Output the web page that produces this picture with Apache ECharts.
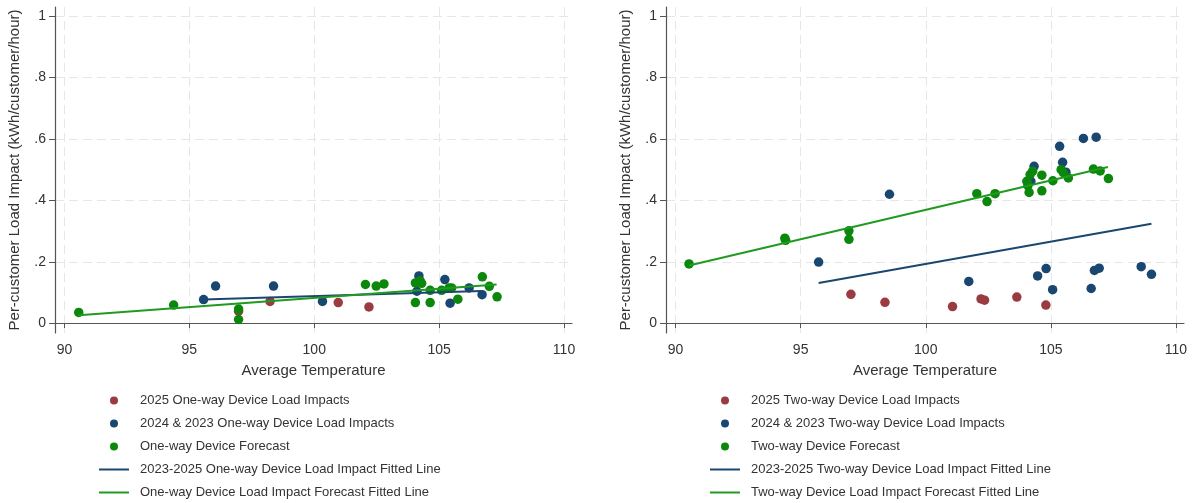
<!DOCTYPE html>
<html>
<head>
<meta charset="utf-8">
<script src="https://cdn.jsdelivr.net/npm/echarts@6/dist/echarts.min.js"></script>
<style>
html, body { margin: 0; padding: 0; background: #fff; }
#chart { width: 1195px; height: 503px; }
</style>
</head>
<body>
<div id="chart"></div>
<script>
// axis ticks
var xTicks = [90, 95, 100, 105, 110];
var yTicks = [0, 0.2, 0.4, 0.6, 0.8, 1];

// one-way device panel
var oneWay2025 = [[96.97, 0.039], [98.23, 0.071], [100.96, 0.067], [102.19, 0.053]];
var oneWay2324 = [[95.57, 0.077], [96.05, 0.121], [98.37, 0.121], [100.33, 0.071], [104.19, 0.154],
  [104.11, 0.104], [105.23, 0.142], [105.44, 0.065], [106.2, 0.115], [106.72, 0.093]];
var oneWayForecast = [[90.57, 0.035], [94.37, 0.059], [96.97, 0.046], [96.97, 0.012], [102.05, 0.126],
  [102.48, 0.121], [102.79, 0.128], [104.05, 0.067], [104.05, 0.131], [104.24, 0.138], [104.3, 0.13],
  [104.64, 0.107], [104.64, 0.067], [105.1, 0.107], [105.4, 0.115], [105.5, 0.115], [105.75, 0.078],
  [106.73, 0.151], [107.01, 0.12], [107.32, 0.086]];
var oneWayFit = [[95.57, 0.077], [106.7, 0.105]];
var oneWayForecastFit = [[90.57, 0.026], [107.3, 0.126]];

// two-way device panel
var twoWay2025 = [[97.01, 0.094], [98.37, 0.068], [101.07, 0.054], [102.21, 0.079], [102.35, 0.075],
  [103.64, 0.085], [104.8, 0.059]];
var twoWay2324 = [[95.72, 0.199], [98.55, 0.42], [101.72, 0.136], [104.33, 0.511], [104.2, 0.462],
  [104.47, 0.154], [104.81, 0.178], [105.07, 0.109], [105.35, 0.576], [105.47, 0.524], [105.6, 0.492],
  [106.3, 0.602], [106.81, 0.606], [106.61, 0.113], [106.74, 0.172], [106.93, 0.179], [108.61, 0.184],
  [109.02, 0.159]];
var twoWayForecast = [[90.54, 0.193], [94.37, 0.277], [94.4, 0.27], [96.93, 0.301], [96.93, 0.273],
  [102.04, 0.422], [102.45, 0.396], [102.77, 0.422], [104.04, 0.462], [104.08, 0.448], [104.13, 0.426],
  [104.17, 0.484], [104.27, 0.495], [104.64, 0.482], [104.64, 0.431], [105.08, 0.464], [105.41, 0.5],
  [105.5, 0.49], [105.7, 0.473], [106.7, 0.502], [106.97, 0.496], [107.3, 0.471]];
var twoWayFit = [[95.72, 0.131], [109.02, 0.324]];
var twoWayForecastFit = [[90.54, 0.188], [107.28, 0.509]];

var RED = '#9a3b42', BLUE = '#1a476f', GREEN = '#0b870b', LINEGREEN = '#209a20';
var FONT = 'Liberation Sans, Arial, sans-serif';
var TXT = '#333';

function xAxisFor(i) {
  return {
    type: 'value', gridIndex: i, min: 89.62, max: 110.32,
    name: 'Average Temperature', nameLocation: 'middle', nameGap: 30,
    nameTextStyle: { fontSize: 15, color: TXT, fontFamily: FONT },
    axisLine: { show: true, lineStyle: { color: '#555', width: 1.2 } },
    axisTick: { show: true, length: 5, customValues: xTicks, lineStyle: { color: '#555' } },
    axisLabel: { customValues: xTicks, fontSize: 14, color: TXT, fontFamily: FONT, margin: 10 },
    splitLine: { show: true, lineStyle: { color: '#e6e6e6', type: [9, 5] } }
  };
}

function yAxisFor(i) {
  return {
    type: 'value', gridIndex: i, min: -0.032, max: 1.03,
    name: 'Per-customer Load Impact (kWh/customer/hour)', nameLocation: 'middle', nameGap: 33,
    nameTextStyle: { fontSize: 15, color: TXT, fontFamily: FONT },
    axisLine: { show: true, lineStyle: { color: '#555', width: 1.2 } },
    axisTick: { show: true, length: 6, customValues: yTicks, lineStyle: { color: '#555' } },
    axisLabel: {
      customValues: yTicks, fontSize: 14, color: TXT, fontFamily: FONT, margin: 9,
      formatter: function (v) {
        if (v === 0) return '0';
        if (v === 1) return '1';
        return String(+v.toFixed(1)).replace(/^0/, '');
      }
    },
    splitLine: { show: true, lineStyle: { color: '#e6e6e6', type: [9, 5] } }
  };
}

function dots(name, data, color, i) {
  return {
    name: name, type: 'scatter', data: data, xAxisIndex: i, yAxisIndex: i,
    symbol: 'circle', symbolSize: 9.5, itemStyle: { color: color, opacity: 1 }
  };
}

function fit(name, data, color, i) {
  return {
    name: name, type: 'line', data: data, xAxisIndex: i, yAxisIndex: i,
    symbol: 'none', lineStyle: { color: color, width: 2 }, itemStyle: { color: color }
  };
}

function legendFor(left, names) {
  return {
    orient: 'vertical', left: left, top: 394, height: 109, padding: 0,
    itemWidth: 30, itemHeight: 8, itemGap: 10,
    textStyle: { fontSize: 13, color: TXT, fontFamily: FONT, padding: [0, 0, 0, 6] },
    data: [
      { name: names[0], icon: 'circle' },
      { name: names[1], icon: 'circle' },
      { name: names[2], icon: 'circle' },
      { name: names[3], itemStyle: { opacity: 0, borderWidth: 0 } },
      { name: names[4], itemStyle: { opacity: 0, borderWidth: 0 } }
    ]
  };
}

var oneNames = ['2025 One-way Device Load Impacts', '2024 & 2023 One-way Device Load Impacts',
  'One-way Device Forecast', '2023-2025 One-way Device Load Impact Fitted Line',
  'One-way Device Load Impact Forecast Fitted Line'];
var twoNames = ['2025 Two-way Device Load Impacts', '2024 & 2023 Two-way Device Load Impacts',
  'Two-way Device Forecast', '2023-2025 Two-way Device Load Impact Fitted Line',
  'Two-way Device Load Impact Forecast Fitted Line'];

var myChart = echarts.init(document.getElementById('chart'));
myChart.setOption({
  animation: false,
  backgroundColor: '#fff',
  grid: [
    { left: 55, top: 7, width: 517, height: 326 },
    { left: 666, top: 7, width: 518, height: 326 }
  ],
  xAxis: [xAxisFor(0), xAxisFor(1)],
  yAxis: [yAxisFor(0), yAxisFor(1)],
  legend: [legendFor(98, oneNames), legendFor(709, twoNames)],
  series: [
    dots(oneNames[0], oneWay2025, RED, 0),
    dots(oneNames[1], oneWay2324, BLUE, 0),
    dots(oneNames[2], oneWayForecast, GREEN, 0),
    fit(oneNames[3], oneWayFit, BLUE, 0),
    fit(oneNames[4], oneWayForecastFit, LINEGREEN, 0),
    dots(twoNames[0], twoWay2025, RED, 1),
    dots(twoNames[1], twoWay2324, BLUE, 1),
    dots(twoNames[2], twoWayForecast, GREEN, 1),
    fit(twoNames[3], twoWayFit, BLUE, 1),
    fit(twoNames[4], twoWayForecastFit, LINEGREEN, 1)
  ]
});
</script>
</body>
</html>
